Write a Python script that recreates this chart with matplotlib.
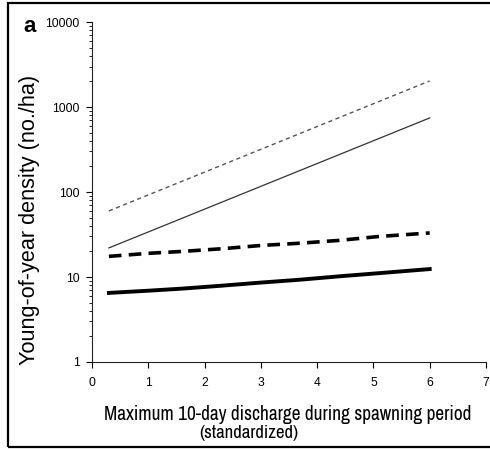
import matplotlib
matplotlib.use("Agg")
import matplotlib.pyplot as plt
from matplotlib.patches import Rectangle
from matplotlib import font_manager

names = {f.name for f in font_manager.fontManager.ttflist}
cond = sorted(n for n in names if "Narrow" in n or "Condensed" in n)
narrow = (cond[:1] if cond else []) + ["Liberation Sans", "DejaVu Sans"]
regular = ["Liberation Sans", "DejaVu Sans"]

# data
x_thin = [0.3, 6.0]
thin_dashed = [60, 2030]
thin_solid = [22, 745]
x_thick = [0.3, 1.0, 1.6, 2.3, 3.0, 3.7, 4.4, 5.1, 6.0]
thick_dashed = [17.5, 19.0, 20.0, 21.5, 23.5, 25.0, 27.0, 30.0, 33.0]
thick_solid = [6.5, 6.9, 7.3, 7.9, 8.6, 9.3, 10.2, 11.1, 12.4]
x_ticks = [0, 1, 2, 3, 4, 5, 6, 7]
y_ticks = [1, 10, 100, 1000, 10000]
y_tick_labels = ["1", "10", "100", "1000", "10000"]

fig = plt.figure(figsize=(4.9, 4.49), dpi=100)
ax = fig.add_axes([0.1878, 0.1938, 0.804, 0.757])

ax.plot(x_thin, thin_dashed, color="#555555", lw=1.0, ls=(0, (3, 2.5)))
ax.plot(x_thin, thin_solid, color="#333333", lw=0.9)
ax.plot(x_thick, thick_dashed, color="black", lw=2.6, ls=(0, (3.5, 2)))
ax.plot(x_thick, thick_solid, color="black", lw=2.8)

ax.set_yscale("log")
ax.set_ylim(1, 10000)
ax.set_xlim(0, 7)
ax.set_xticks(x_ticks)
ax.set_yticks(y_ticks)
ax.set_yticklabels(y_tick_labels)
for s in ["top", "right"]:
    ax.spines[s].set_visible(False)
for s in ["left", "bottom"]:
    ax.spines[s].set_linewidth(0.8)
    ax.spines[s].set_color("#222222")
ax.tick_params(axis="x", which="major", length=4, width=0.8, direction="out", pad=7)
ax.tick_params(axis="y", which="major", length=4, width=0.8, direction="out", pad=5)
ax.tick_params(axis="y", which="minor", length=2.5, width=0.6)
for lab in ax.get_xticklabels() + ax.get_yticklabels():
    lab.set_family(regular)
    lab.set_fontsize(8.7)

ylab = fig.text(0.061, 0.51, "Young-of-year density (no./ha)", family=regular, fontsize=15,
                rotation=90, ha="center", va="center")
xl1 = fig.text(0.588, 0.076, "Maximum 10-day discharge during spawning period",
               family=narrow, fontsize=13, ha="center", va="center")
xl2 = fig.text(0.507, 0.035, "(standardized)", family=narrow, fontsize=13, ha="center", va="center")

fig.text(0.047, 0.94, "a", family=regular, fontsize=16, fontweight="bold", ha="left", va="center")

fig.patches.append(Rectangle((0.0163, 0.0045), 1.2, 0.9888, transform=fig.transFigure,
                             fill=False, lw=1.6, edgecolor="black"))

# fit label sizes to the reference's text extents
fig.canvas.draw()
r = fig.canvas.get_renderer()
w = xl1.get_window_extent(r).width
s = 13 * 369.0 / w
xl1.set_fontsize(s)
xl2.set_fontsize(s * 0.97)
h = ylab.get_window_extent(r).height
ylab.set_fontsize(15 * 292.0 / h)

fig.savefig("out.png", dpi=100)
